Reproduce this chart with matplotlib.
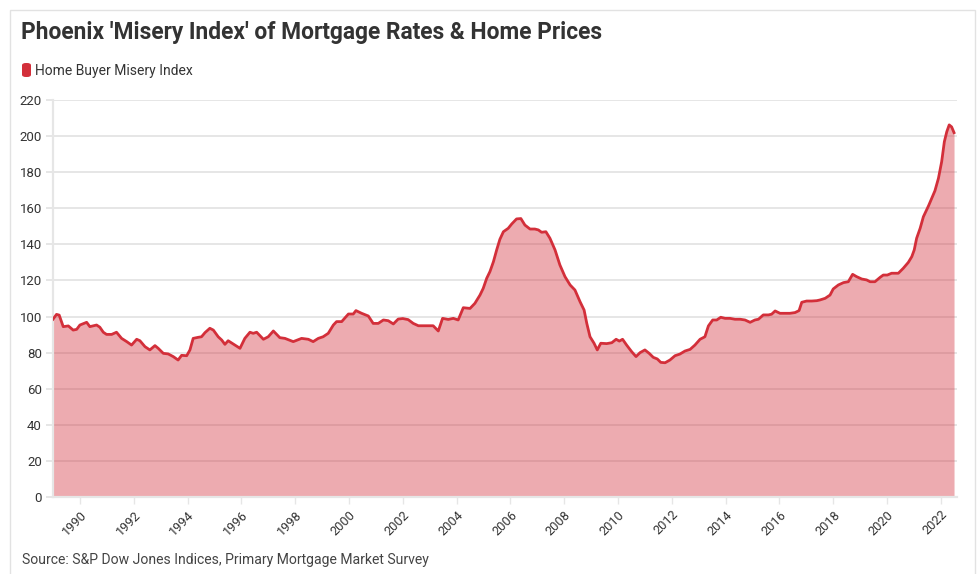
import matplotlib
matplotlib.use("Agg")
import matplotlib.pyplot as plt
from matplotlib.patches import FancyBboxPatch, Rectangle
import numpy as np

# decimal year of each reading and the index value
years = [
    1989.0, 1989.13, 1989.23, 1989.38, 1989.57, 1989.75, 1989.88, 1990.0, 1990.25, 1990.37,
    1990.62, 1990.74, 1990.87, 1990.99, 1991.18, 1991.36, 1991.55, 1991.74, 1991.92, 1992.11,
    1992.23, 1992.42, 1992.6, 1992.79, 1992.91, 1993.1, 1993.28, 1993.47, 1993.65, 1993.78,
    1993.97, 1994.09, 1994.21, 1994.4, 1994.52, 1994.65, 1994.83, 1994.96, 1995.14, 1995.27,
    1995.39, 1995.51, 1995.7, 1995.95, 1996.13, 1996.32, 1996.44, 1996.57, 1996.82, 1997.0,
    1997.19, 1997.43, 1997.62, 1997.93, 1998.24, 1998.49, 1998.67, 1998.86, 1999.04, 1999.23,
    1999.42, 1999.54, 1999.73, 1999.98, 2000.16, 2000.26, 2000.47, 2000.72, 2000.9, 2001.09,
    2001.28, 2001.46, 2001.65, 2001.83, 2002.0, 2002.2, 2002.39, 2002.58, 2002.83, 2003.13,
    2003.32, 2003.48, 2003.69, 2003.88, 2004.06, 2004.25, 2004.5, 2004.68, 2004.87, 2004.99,
    2005.12, 2005.24, 2005.37, 2005.49, 2005.61, 2005.74, 2005.92, 2006.05, 2006.23, 2006.39,
    2006.54, 2006.73, 2006.91, 2007.04, 2007.16, 2007.32, 2007.47, 2007.66, 2007.84, 2008.03,
    2008.22, 2008.4, 2008.59, 2008.74, 2008.84, 2008.96, 2009.11, 2009.23, 2009.36, 2009.58,
    2009.77, 2009.93, 2010.05, 2010.17, 2010.32, 2010.51, 2010.67, 2010.82, 2011.0, 2011.16,
    2011.31, 2011.46, 2011.59, 2011.75, 2011.93, 2012.12, 2012.3, 2012.49, 2012.68, 2012.86,
    2013.05, 2013.23, 2013.36, 2013.52, 2013.67, 2013.82, 2013.98, 2014.16, 2014.35, 2014.54,
    2014.72, 2014.91, 2015.09, 2015.22, 2015.4, 2015.59, 2015.71, 2015.84, 2016.02, 2016.21,
    2016.39, 2016.58, 2016.73, 2016.83, 2017.01, 2017.2, 2017.39, 2017.51, 2017.7, 2017.88,
    2018.0, 2018.19, 2018.38, 2018.56, 2018.72, 2018.87, 2019.06, 2019.24, 2019.37, 2019.55,
    2019.74, 2019.86, 2020.01, 2020.17, 2020.42, 2020.6, 2020.79, 2020.92, 2021.01, 2021.1,
    2021.23, 2021.35, 2021.54, 2021.66, 2021.78, 2021.91, 2022.03, 2022.13, 2022.22, 2022.31,
    2022.4, 2022.49,
]
misery = [
    98.5, 101.2, 100.8, 94.4, 94.8, 92.5, 92.9, 95.3, 96.8, 94.4,
    95.3, 94.1, 91.3, 90.1, 90.1, 91.3, 87.9, 86.1, 84.2, 87.4,
    86.6, 83.3, 81.5, 83.9, 82.4, 79.6, 79.3, 77.8, 75.9, 78.5,
    78.3, 81.5, 87.9, 88.5, 88.8, 91.1, 93.5, 92.5, 88.8, 87.0,
    84.6, 86.6, 84.8, 82.4, 87.9, 91.3, 90.7, 91.3, 87.4, 88.8,
    92.0, 88.3, 87.9, 86.1, 87.9, 87.4, 86.1, 87.9, 88.8, 90.7,
    95.3, 97.2, 97.2, 101.4, 101.4, 103.3, 101.8, 100.3, 96.2, 96.2,
    98.1, 97.7, 95.9, 98.6, 98.9, 98.3, 96.2, 94.9, 94.9, 94.9,
    92.0, 99.0, 98.4, 99.0, 98.1, 104.9, 104.5, 107.3, 111.9, 115.6,
    121.2, 124.9, 130.4, 136.9, 142.8, 147.0, 148.9, 151.3, 154.1, 154.3,
    150.7, 148.5, 148.5, 148.0, 146.7, 147.0, 143.4, 136.9, 128.6, 122.1,
    117.5, 114.7, 108.2, 103.6, 96.2, 88.8, 85.2, 81.5, 85.2, 85.0,
    85.5, 87.4, 86.4, 87.4, 84.2, 80.5, 77.8, 80.0, 81.5, 79.6,
    77.4, 76.5, 74.6, 74.4, 75.9, 78.3, 79.2, 80.9, 81.8, 84.2,
    87.4, 88.8, 94.8, 98.1, 98.1, 99.6, 99.0, 99.0, 98.5, 98.5,
    98.1, 96.8, 98.1, 98.5, 100.9, 100.9, 101.3, 103.1, 101.8, 101.8,
    101.8, 102.2, 103.3, 107.9, 108.6, 108.6, 108.8, 109.2, 110.1, 111.9,
    115.3, 117.5, 118.8, 119.3, 123.4, 122.1, 120.8, 120.3, 119.3, 119.3,
    121.7, 123.0, 123.0, 124.0, 124.0, 126.7, 130.0, 133.2, 136.9, 143.4,
    148.9, 155.3, 161.3, 165.5, 169.7, 176.6, 185.8, 196.9, 202.4, 206.2,
    205.1, 201.9,
]
tick_years = list(range(1990, 2023, 2))
y_ticks = list(range(0, 221, 20))

TITLE = "Phoenix 'Misery Index' of Mortgage Rates & Home Prices"
SERIES = "Home Buyer Misery Index"
SOURCE = "Source: S&P Dow Jones Indices, Primary Mortgage Market Survey"

LINE = "#d32f3a"
GRID = "#e6e6e6"
TEXT = "#333333"

plt.rcParams["font.family"] = ["Roboto", "DejaVu Sans"]

W, H = 980, 574
fig = plt.figure(figsize=(W / 100, H / 100), dpi=100)


def fx(px):
    return px / W


def fy(py):
    return 1 - py / H


# light card border
fig.add_artist(Rectangle((fx(10), fy(590)), fx(965), 580 / H,
                         transform=fig.transFigure, fill=False,
                         edgecolor="#e2e2e2", linewidth=1))

ax = fig.add_axes([fx(53), fy(497), fx(957 - 53), (497 - 100) / H])
x = np.array(years)
y = np.array(misery)
ax.fill_between(x, 0, y, color=LINE, alpha=0.4, linewidth=0, zorder=2)
ax.plot(x, y, color=LINE, linewidth=2.0, zorder=3, solid_joinstyle="round")

ax.set_xlim(1989.0, 2022.6)
ax.set_ylim(0, 220)
ax.set_yticks(y_ticks)
ax.set_xticks(tick_years)
ax.set_xticklabels([str(t) for t in tick_years], rotation=45, ha="right",
                   rotation_mode="anchor", fontsize=9.2, color=TEXT)
ax.set_yticklabels([str(t) for t in y_ticks], fontsize=9.5, color=TEXT)
ax.grid(axis="y", color=GRID, linewidth=1.4, zorder=1)
ax.set_axisbelow(True)
ax.tick_params(axis="x", length=5, width=1, color=GRID, pad=3)
ax.tick_params(axis="y", length=5, width=1.4, color=GRID, pad=3)
for side in ("top", "right"):
    ax.spines[side].set_visible(False)
for side in ("left", "bottom"):
    ax.spines[side].set_color(GRID)
    ax.spines[side].set_linewidth(1.6)

fig.text(fx(21), fy(33), TITLE, fontsize=16.4, fontweight="bold", color=TEXT,
         va="center", ha="left")
fig.add_artist(FancyBboxPatch((fx(22), fy(77)), fx(9), 14 / H,
                              boxstyle="round,pad=0,rounding_size=0.004",
                              transform=fig.transFigure, color=LINE, linewidth=0))
fig.text(fx(35), fy(70.5), SERIES, fontsize=10, color=TEXT, va="center", ha="left")
fig.text(fx(22), fy(560), SOURCE, fontsize=10.1, color="#444444", va="center", ha="left")

fig.savefig("out.png", dpi=100)
